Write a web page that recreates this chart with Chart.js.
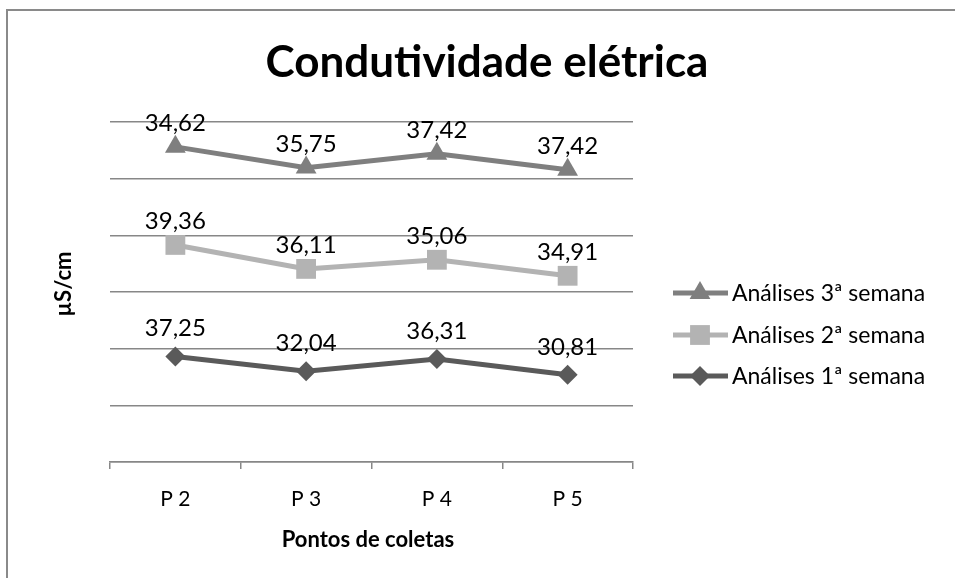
<!DOCTYPE html>
<html>
<head>
<meta charset="utf-8">
<script src="https://cdn.jsdelivr.net/npm/chart.js@4/dist/chart.umd.min.js"></script>
<style>
  html, body { margin: 0; padding: 0; background: #ffffff; }
  #wrap { width: 955px; height: 578px; position: relative; }
</style>
</head>
<body>
<div id="wrap"><canvas id="c" width="955" height="578"></canvas></div>
<script>
// Sampling points
const categories = ['P 2', 'P 3', 'P 4', 'P 5'];

// Conductivity per week (µS/cm)
const week1 = [37.25, 32.04, 36.31, 30.81];
const week2 = [39.36, 36.11, 35.06, 34.91];
const week3 = [34.62, 35.75, 37.42, 37.42];

const seriesNames = ['Análises 1ª semana', 'Análises 2ª semana', 'Análises 3ª semana'];

const FONT = 'Lato, Carlito, "Open Sans", sans-serif';
const GRID = '#878787';

const fmt = v => v.toFixed(2).replace('.', ',');

// Outer frame, titles, value labels and legend
const decor = {
  id: 'decor',
  beforeDraw(chart) {
    const ctx = chart.ctx;
    ctx.save();
    ctx.fillStyle = '#ffffff';
    ctx.fillRect(0, 0, chart.width, chart.height);
    ctx.strokeStyle = '#8a8a8a';
    ctx.lineWidth = 2;
    ctx.beginPath();
    ctx.moveTo(7, chart.height);
    ctx.lineTo(7, 10);
    ctx.lineTo(chart.width, 10);
    ctx.stroke();
    ctx.restore();
  },
  afterDraw(chart) {
    const ctx = chart.ctx;
    ctx.save();
    ctx.fillStyle = '#000000';
    ctx.textAlign = 'center';
    ctx.textBaseline = 'alphabetic';

    // main title
    ctx.font = 'bold 44px ' + FONT;
    ctx.fillText('Condutividade elétrica', 487, 77);

    // axis titles
    ctx.font = 'bold 22px ' + FONT;
    ctx.fillText('Pontos de coletas', 368, 547);
    ctx.save();
    ctx.translate(71, 284);
    ctx.rotate(-Math.PI / 2);
    ctx.fillText('µS/cm', 0, 0);
    ctx.restore();

    // value labels above each point
    ctx.font = '24px ' + FONT;
    chart.data.datasets.forEach((ds, i) => {
      const meta = chart.getDatasetMeta(i);
      meta.data.forEach((pt, j) => {
        ctx.fillText(fmt(ds.data[j]), pt.x, pt.y - ds.labelGap);
      });
    });

    // legend (top entry is the last series)
    const rows = [293, 335, 376];
    const order = [2, 1, 0];
    ctx.textAlign = 'left';
    ctx.textBaseline = 'middle';
    ctx.font = '23px ' + FONT;
    order.forEach((di, r) => {
      const ds = chart.data.datasets[di];
      const y = rows[r];
      ctx.strokeStyle = ds.borderColor;
      ctx.lineWidth = ds.borderWidth;
      ctx.beginPath();
      ctx.moveTo(673, y);
      ctx.lineTo(728, y);
      ctx.stroke();
      ctx.fillStyle = ds.pointBackgroundColor;
      ctx.strokeStyle = ds.pointBackgroundColor;
      Chart.helpers.drawPoint(ctx, {
        pointStyle: ds.pointStyle,
        radius: ds.pointRadius,
        rotation: 0,
        borderWidth: 0
      }, 700, y);
      ctx.fillStyle = '#000000';
      ctx.fillText(ds.label, 732, y + 1);
    });
    ctx.restore();
  }
};

function makeSet(label, data, color, style, radius, gap) {
  return {
    label: label,
    data: data,
    borderColor: color,
    backgroundColor: color,
    pointBackgroundColor: color,
    pointBorderColor: color,
    pointBorderWidth: 0,
    borderWidth: 5,
    pointStyle: style,
    pointRadius: radius,
    pointHoverRadius: radius,
    tension: 0,
    fill: false,
    labelGap: gap
  };
}

new Chart(document.getElementById('c'), {
  type: 'line',
  data: {
    labels: categories,
    datasets: [
      makeSet(seriesNames[0], week1, '#5a5a5a', 'rectRot', 10, 20),
      makeSet(seriesNames[1], week2, '#b3b3b3', 'rect', 14, 16),
      makeSet(seriesNames[2], week3, '#7f7f7f', 'triangle', 12, 16)
    ]
  },
  options: {
    responsive: false,
    animation: false,
    devicePixelRatio: 1,
    layout: { padding: { left: 110, right: 322, top: 122, bottom: 56 } },
    plugins: {
      legend: { display: false },
      tooltip: { enabled: false },
      title: { display: false }
    },
    scales: {
      x: {
        offset: true,
        afterFit(s) { s.height = 60; },
        grid: {
          offset: true,
          drawOnChartArea: false,
          drawTicks: true,
          tickLength: 7,
          color: GRID,
          lineWidth: 1.5
        },
        border: { display: true, color: GRID, width: 1.5 },
        ticks: {
          color: '#000000',
          font: { family: FONT, size: 21 },
          padding: 18,
          maxRotation: 0
        }
      },
      y: {
        stacked: true,
        min: 0,
        max: 120,
        afterFit(s) { s.width = 0; },
        ticks: { display: false, stepSize: 20 },
        grid: { drawTicks: false, color: GRID, lineWidth: 1.5 },
        border: { display: false }
      }
    }
  },
  plugins: [decor]
});
</script>
</body>
</html>
